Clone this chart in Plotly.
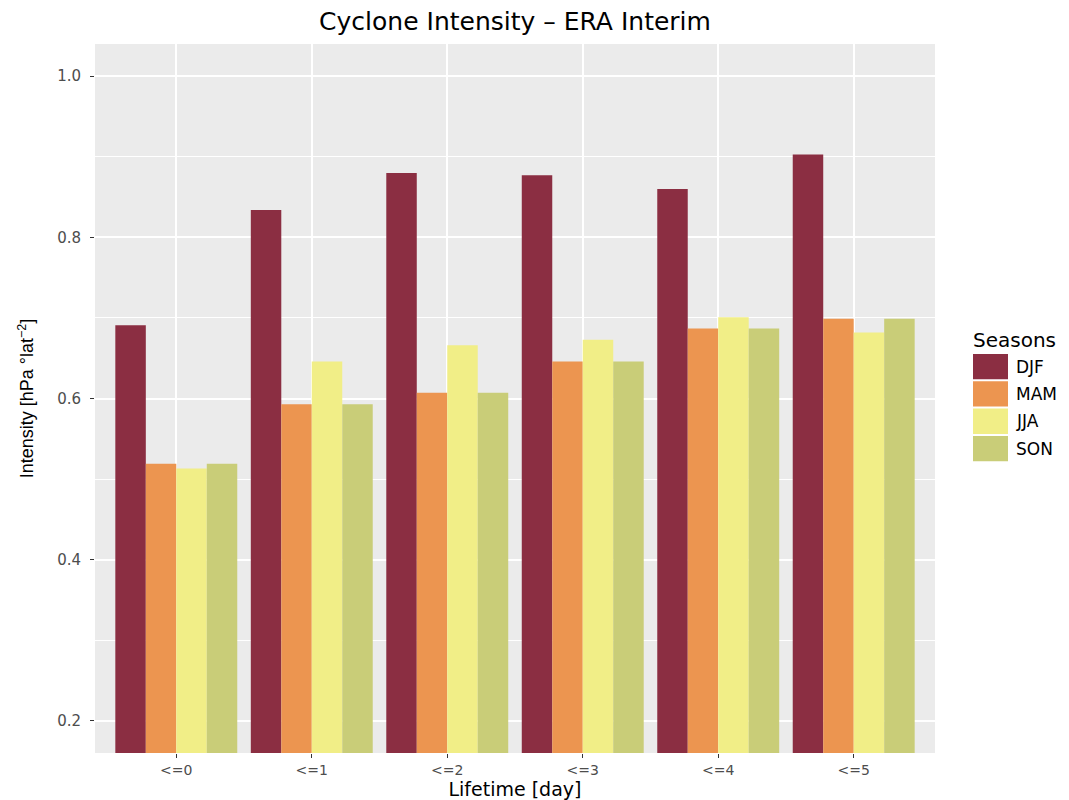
import plotly.graph_objects as go

categories = ["<=0", "<=1", "<=2", "<=3", "<=4", "<=5"]
seasons = ["DJF", "MAM", "JJA", "SON"]
djf = [0.691, 0.834, 0.880, 0.877, 0.860, 0.903]
mam = [0.519, 0.593, 0.607, 0.646, 0.687, 0.699]
jja = [0.513, 0.646, 0.666, 0.673, 0.701, 0.682]
son = [0.519, 0.593, 0.607, 0.646, 0.687, 0.699]
colors = ["#8B2E42", "#EC9550", "#F1EE87", "#C9CD78"]
series = [djf, mam, jja, son]

fig = go.Figure()
for name, vals, col in zip(seasons, series, colors):
    fig.add_trace(go.Bar(x=categories, y=vals, name=name, marker_color=col,
                         marker_line_width=0, showlegend=False))

W, H = 1069, 800
L, R, T, B = 95, 935, 44, 753
WIDE = "DejaVu Sans, Verdana, sans-serif"
fig.update_layout(
    width=W, height=H,
    margin=dict(l=L, r=W - R, t=T, b=H - B, autoexpand=False),
    paper_bgcolor="white", plot_bgcolor="#EBEBEB",
    barmode="group", bargap=0.1, bargroupgap=0,
    font=dict(family=WIDE),
    title=dict(text="Cyclone Intensity \u2013 ERA Interim", x=(L + R) / 2 / W, xanchor="center",
               y=1 - 21 / H, yanchor="middle", font=dict(family=WIDE, size=25, color="black")),
)
fig.update_xaxes(range=[-0.6, len(categories) - 0.4], automargin=False,
                 showgrid=True, gridcolor="white", gridwidth=1.6,
                 ticks="outside", ticklen=4, tickcolor="#333333",
                 tickfont=dict(family=WIDE, size=14, color="#4D4D4D"),
                 title=dict(text="Lifetime [day]", font=dict(family=WIDE, size=19, color="black"), standoff=5),
                 showline=False, zeroline=False)
fig.update_yaxes(range=[0.16, 1.04], automargin=False, tickvals=[0.2, 0.4, 0.6, 0.8, 1.0],
                 ticktext=["0.2", "0.4", "0.6", "0.8", "1.0"],
                 showgrid=True, gridcolor="white", gridwidth=1.6,
                 minor=dict(tickvals=[0.3, 0.5, 0.7, 0.9], showgrid=True, gridcolor="white", gridwidth=0.8),
                 ticks="outside", ticklen=4, tickcolor="#333333", ticklabelstandoff=6,
                 tickfont=dict(family=WIDE, size=15, color="#4D4D4D"),
                 title=dict(text="Intensity [hPa \u00b0lat<sup>\u22122</sup>]",
                            font=dict(family="Liberation Sans, Arial, sans-serif", size=18, color="black"),
                            standoff=18),
                 showline=False, zeroline=False)

def px_x(x):
    return (x - L) / (R - L)

def px_y(y):
    return 1 - (y - T) / (B - T)

fig.add_annotation(text="Seasons", xref="paper", yref="paper", x=px_x(971), y=px_y(340),
                   xanchor="left", yanchor="middle", showarrow=False,
                   font=dict(family=WIDE, size=20, color="black"))
key_top = 353
key_h = 27.3
for i, (name, col) in enumerate(zip(seasons, colors)):
    y0 = key_top + i * key_h
    fig.add_shape(type="rect", xref="paper", yref="paper",
                  x0=px_x(973), x1=px_x(1008), y0=px_y(y0 + 1), y1=px_y(y0 + key_h - 1),
                  fillcolor=col, line_width=0)
    fig.add_annotation(text=name, xref="paper", yref="paper", x=px_x(1014), y=px_y(y0 + key_h / 2),
                       xanchor="left", yanchor="middle", showarrow=False,
                       font=dict(family=WIDE, size=17, color="black"))

fig.write_html("out.html", config={"displayModeBar": False},
               post_script="document.body.style.margin='0';")
